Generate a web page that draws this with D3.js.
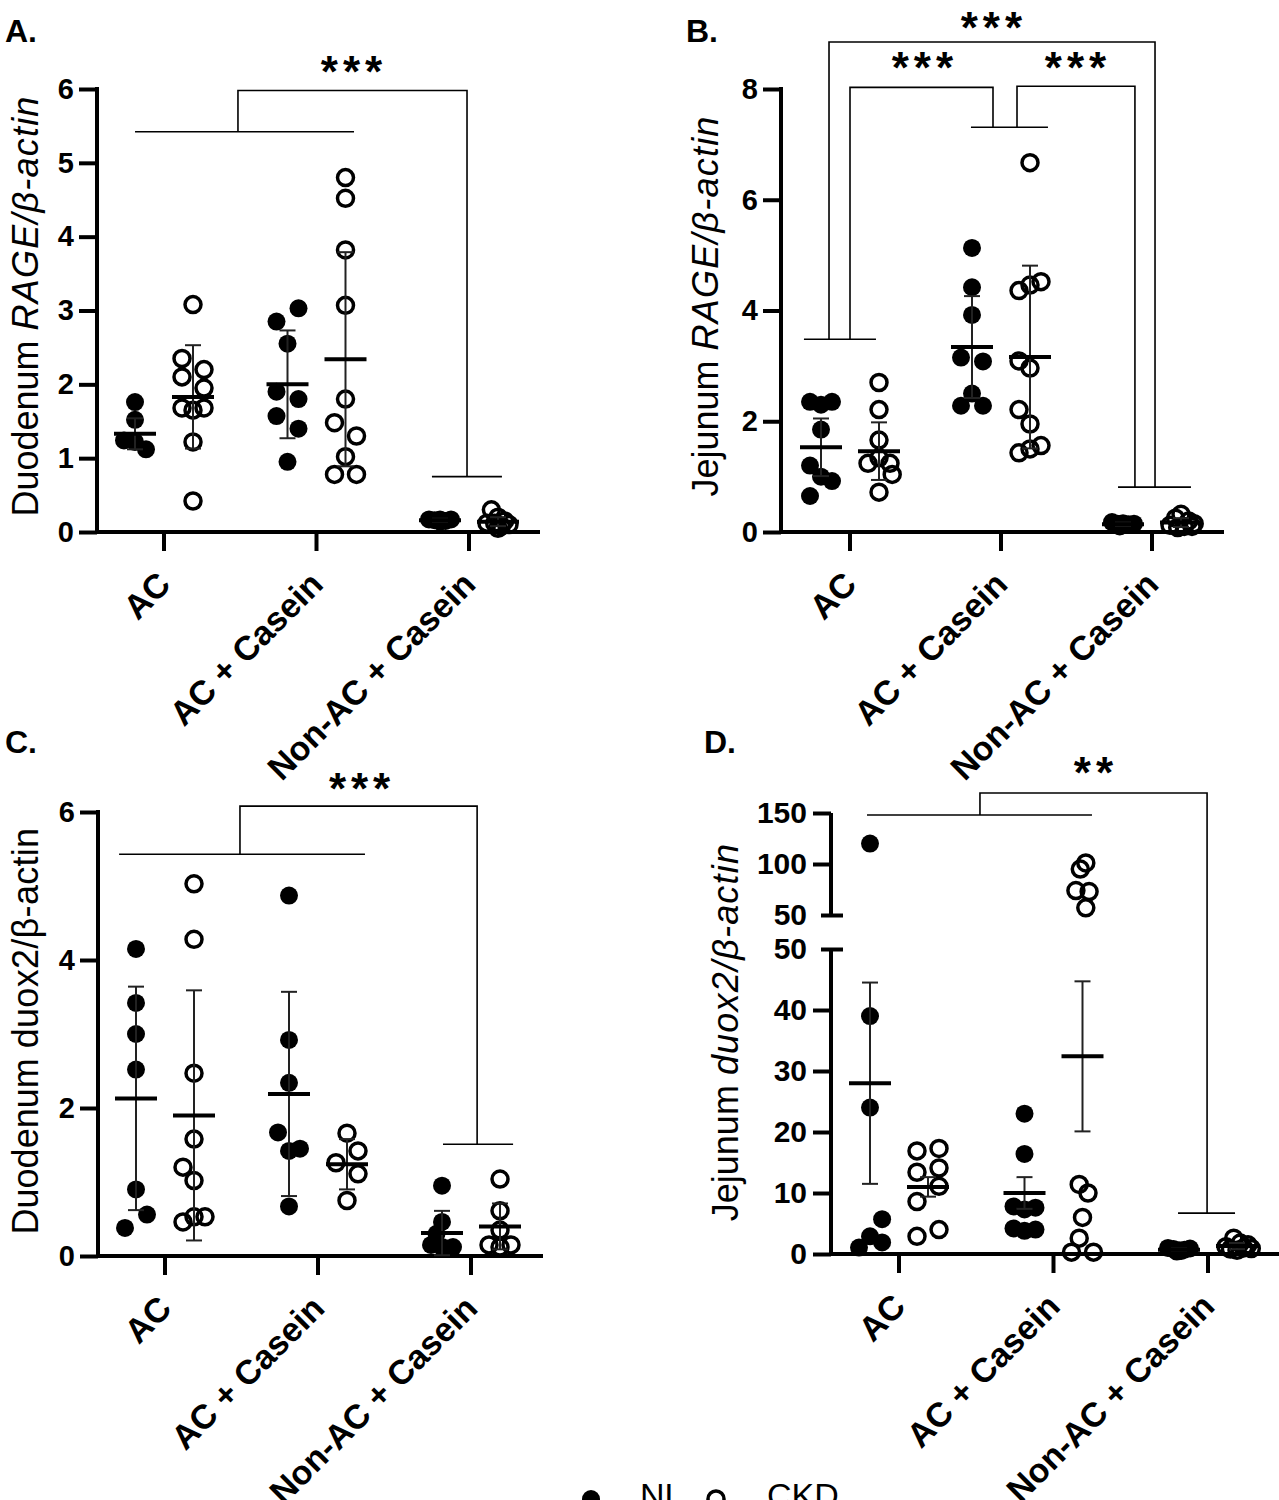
<!DOCTYPE html>
<html><head><meta charset="utf-8">
<script src="https://cdn.jsdelivr.net/npm/d3@7"></script>
<style>body{margin:0;background:#fff}svg{display:block}</style>
</head><body>
<svg id="chart" width="1279" height="1500"></svg>
<script>
// ---------------- DATA ----------------
const categories = ["AC", "AC + Casein", "Non-AC + Casein"];
const seriesNames = ["NL", "CKD"];

// each point: [value, lane] (lane = side-by-side slot of overlapping points)
// Panel A: Duodenum RAGE/β-actin
const A_NL = [
  [[1.76,0],[1.52,0],[1.24,-1],[1.22,0],[1.12,1]],
  [[3.03,1],[2.85,-1],[2.55,0],[1.9,-1],[1.8,1],[1.57,-1],[1.4,1],[0.95,0]],
  [[0.17,-1],[0.16,-0.5],[0.17,0],[0.15,0.5],[0.17,1],[0.14,0]]
];
const A_CKD = [
  [[3.08,0],[2.35,-1],[2.2,1],[2.1,-1],[1.95,1],[1.68,-1],[1.65,0],[1.68,1],[1.22,0],[0.42,0]],
  [[4.8,0],[4.52,0],[3.82,0],[3.07,0],[1.8,0],[1.48,-1],[1.3,1],[1.02,0],[0.78,-1],[0.78,1]],
  [[0.3,-0.6],[0.2,0],[0.15,0.6],[0.12,-0.3],[0.08,0.3],[0.1,1],[0.12,-1],[0.05,0]]
];
const A_NL_mean = [1.33, 2.0, 0.16];
const A_NL_sd = [0.21, 0.73, 0.02];
const A_CKD_mean = [1.83, 2.34, 0.14];
const A_CKD_sd = [0.70, 1.45, 0.06];
const A_ticks = [0, 1, 2, 3, 4, 5, 6];
const A_brackets = [
  [[-0.19,5.42],[1.246,5.42]],
  [[0.485,5.42],[0.485,5.98],[1.987,5.98],[1.987,0.75]],
  [[1.757,0.75],[2.216,0.75]]
];
const A_stars = [["***", 1.233, 6.32]];

// Panel B: Jejunum RAGE/β-actin
const B_NL = [
  [[2.35,-1],[2.35,1],[2.3,0],[1.85,0],[1.2,-1],[1.0,0],[0.92,1],[0.65,-1]],
  [[5.13,0],[4.42,0],[3.92,0],[3.15,-1],[3.08,1],[2.5,0],[2.28,-1],[2.28,1]],
  [[0.18,-1],[0.15,-0.5],[0.16,0],[0.14,0.5],[0.15,1],[0.12,0],[0.1,-0.3]]
];
const B_CKD = [
  [[2.7,0],[2.21,0],[1.66,0],[1.34,0],[1.24,-1],[1.24,1],[1.04,1.2],[0.72,0]],
  [[6.67,0],[4.52,1],[4.46,0],[4.36,-1],[3.09,-1],[2.96,0],[2.21,-1],[1.95,0],[1.56,1],[1.5,0],[1.43,-1]],
  [[0.32,0],[0.25,-0.5],[0.2,0.7],[0.15,1.2],[0.12,-1],[0.1,0.3],[0.08,-0.3],[0.1,1]]
];
const B_NL_mean = [1.53, 3.34, 0.14];
const B_NL_sd = [0.52, 0.92, 0.03];
const B_CKD_mean = [1.46, 3.16, 0.17];
const B_CKD_sd = [0.52, 1.65, 0.08];
const B_ticks = [0, 2, 4, 6, 8];
const B_brackets = [
  [[-0.305,3.48],[0.172,3.48]],
  [[0.801,7.31],[1.311,7.31]],
  [[1.775,0.81],[2.258,0.81]],
  [[-0.139,3.48],[-0.139,8.85],[2.02,8.85],[2.02,0.81]],
  [[0,3.48],[0,8.03],[0.947,8.03],[0.947,7.31]],
  [[1.106,7.31],[1.106,8.05],[1.887,8.05],[1.887,0.81]]
];
const B_stars = [["***", 0.94, 9.22], ["***", 0.483, 8.5], ["***", 1.497, 8.5]];

// Panel C: Duodenum duox2/β-actin
const C_NL = [
  [[4.15,0],[3.42,0],[3.0,0],[2.52,0],[0.9,0],[0.56,1],[0.38,-1]],
  [[4.87,0],[2.92,0],[2.34,0],[1.67,-1],[1.45,1],[1.42,0],[0.67,0]],
  [[0.95,0],[0.46,0],[0.3,-0.5],[0.15,-1],[0.12,0],[0.12,1],[0.1,0.5]]
];
const C_CKD = [
  [[5.03,0],[4.28,0],[2.47,0],[1.58,0],[1.2,-1],[1.02,0],[0.53,0],[0.53,1],[0.46,-1]],
  [[1.66,0],[1.42,1],[1.26,-1],[1.11,1],[0.75,0]],
  [[1.04,0],[0.61,0],[0.35,0],[0.15,-1],[0.15,1],[0.12,0]]
];
const C_NL_mean = [2.13, 2.19, 0.31];
const C_NL_sd = [1.51, 1.38, 0.30];
const C_CKD_mean = [1.9, 1.24, 0.40];
const C_CKD_sd = [1.69, 0.34, 0.31];
const C_ticks = [0, 2, 4, 6];
const C_brackets = [
  [[-0.30,5.43],[1.307,5.43]],
  [[0.49,5.43],[0.49,6.08],[2.04,6.08],[2.04,1.51]],
  [[1.817,1.51],[2.275,1.51]]
];
const C_stars = [["***", 1.275, 6.4]];

// Panel D: Jejunum duox2/β-actin (broken axis)
const D_NL = [
  [[120,0],[39,0],[24,0],[5.7,1.1],[2.9,0],[1.9,1.1],[1.05,-1]],
  [[23,0],[16.4,0],[7.8,-1],[7.6,1],[7.3,0],[4.2,-1],[4.0,1],[3.8,0]],
  [[1.0,-1],[0.8,-0.5],[0.6,0],[0.7,0.5],[0.9,1],[0.5,0.2],[0.4,-0.2]]
];
const D_CKD = [
  [[17.3,1],[16.9,-1],[14.1,1],[13.4,-1],[11.1,1],[8.6,-1],[4.0,1],[2.9,-1]],
  [[101,0.3],[95,-0.2],[74,-0.6],[73,0.6],[57,0.3],[11.4,-0.3],[10,0.5],[6,0],[2.6,-0.3],[0.3,-1],[0.3,1]],
  [[2.6,-0.3],[1.8,0.3],[1.5,1],[1.2,-1],[1.0,0.6],[0.8,-0.6],[0.6,0],[0.9,1.3]]
];
const D_NL_mean = [28, 10, 0.7];
const D_NL_sd = [16.5, 2.6, 0.2];
const D_CKD_mean = [11, 32.4, 1.3];
const D_CKD_sd = [1.6, 12.3, 0.5];
const D_ticksLower = [0, 10, 20, 30, 40, 50];
const D_ticksUpper = [50, 100, 150];
const D_brackets = [
  [[-0.207,148],[1.249,148]],
  [[0.524,148],[0.524,169.6],[1.994,169.6],[1.994,6.7]],
  [[1.806,6.7],[2.175,6.7]]
];
const D_stars = [["**", 1.262, 196]];

// ---------------- LAYOUT ----------------
const FONT = "'Liberation Sans', Arial, Helvetica, sans-serif";
const svg = d3.select("#chart");
svg.append("rect").attr("width",1279).attr("height",1500).attr("fill","#fff");

const panels = [
  { label:"A.", labelX:5, labelY:42, x0:97, xEnd:540, catRange:[164,469],
    y: d3.scaleLinear().domain([0,6]).range([532,89]), ticks:A_ticks, tickFont:29,
    titleX:38, titleY:306, titleMain:"Duodenum ", titleItal:"RAGE/β-actin", italic:true,
    NL:A_NL, CKD:A_CKD, NLm:A_NL_mean, NLs:A_NL_sd, CKm:A_CKD_mean, CKs:A_CKD_sd,
    brackets:A_brackets, stars:A_stars },
  { label:"B.", labelX:686, labelY:42, x0:781, xEnd:1224, catRange:[850,1152],
    y: d3.scaleLinear().domain([0,8]).range([532,89]), ticks:B_ticks, tickFont:29,
    titleX:718, titleY:306, titleMain:"Jejunum ", titleItal:"RAGE/β-actin", italic:true,
    NL:B_NL, CKD:B_CKD, NLm:B_NL_mean, NLs:B_NL_sd, CKm:B_CKD_mean, CKs:B_CKD_sd,
    brackets:B_brackets, stars:B_stars },
  { label:"C.", labelX:5, labelY:753, x0:98, xEnd:543, catRange:[165,471],
    y: d3.scaleLinear().domain([0,6]).range([1256,812]), ticks:C_ticks, tickFont:29,
    titleX:38, titleY:1031, titleMain:"Duodenum ", titleItal:"duox2/β-actin", italic:false,
    NL:C_NL, CKD:C_CKD, NLm:C_NL_mean, NLs:C_NL_sd, CKm:C_CKD_mean, CKs:C_CKD_sd,
    brackets:C_brackets, stars:C_stars },
  { label:"D.", labelX:704, labelY:753, x0:831, xEnd:1279, catRange:[899,1208],
    lower: d3.scaleLinear().domain([0,50]).range([1254,949]),
    upper: d3.scaleLinear().domain([50,150]).range([915,813]), tickFont:30,
    titleX:738, titleY:1032, titleMain:"Jejunum ", titleItal:"duox2/β-actin", italic:true,
    NL:D_NL, CKD:D_CKD, NLm:D_NL_mean, NLs:D_NL_sd, CKm:D_CKD_mean, CKs:D_CKD_sd,
    brackets:D_brackets, stars:D_stars, broken:true }
];

const LANE = 11;
const R_FILL = 9, R_OPEN = 8;

function styleAxis(ax, fs) {
  ax.selectAll(".tick line").attr("stroke","#000").attr("stroke-width",4);
  ax.selectAll(".tick text").attr("font-family",FONT).attr("font-weight","bold")
    .attr("font-size",fs).attr("fill","#000");
}

panels.forEach(P => {
  const g = svg.append("g");
  const yf = P.broken ? (v => (v <= 50 ? P.lower(v) : P.upper(v))) : P.y;
  const y0 = P.broken ? P.lower(0) : P.y(0);
  const x = d3.scalePoint().domain(categories).range(P.catRange);
  const off = d3.scalePoint().domain(seriesNames).range([-29, 29]);
  const xi = d3.scaleLinear().domain([0, 2]).range(P.catRange);

  // panel letter
  g.append("text").attr("x",P.labelX).attr("y",P.labelY).text(P.label)
    .attr("font-family",FONT).attr("font-weight","bold").attr("font-size",32).attr("fill","#000");

  // y axis
  if (!P.broken) {
    const ax = g.append("g").attr("transform",`translate(${P.x0},0)`)
      .call(d3.axisLeft(P.y).tickValues(P.ticks).tickSize(18).tickPadding(5).tickFormat(d3.format("d")));
    ax.select(".domain").remove();
    styleAxis(ax, P.tickFont);
    g.append("line").attr("x1",P.x0).attr("x2",P.x0).attr("y1",P.y(P.y.domain()[0]))
      .attr("y2",P.y(P.y.domain()[1])).attr("stroke","#000").attr("stroke-width",4).attr("stroke-linecap","square");
  } else {
    [[P.lower, D_ticksLower], [P.upper, D_ticksUpper]].forEach(([sc, tv]) => {
      const ax = g.append("g").attr("transform",`translate(${P.x0},0)`)
        .call(d3.axisLeft(sc).tickValues(tv).tickSize(18).tickPadding(6).tickFormat(d3.format("d")));
      ax.select(".domain").remove();
      styleAxis(ax, P.tickFont);
      ax.selectAll(".tick").filter(d => d === 50).select("line").attr("x2",-10).attr("x1",12);
      g.append("line").attr("x1",P.x0).attr("x2",P.x0).attr("y1",sc(sc.domain()[0]))
        .attr("y2",sc(sc.domain()[1])).attr("stroke","#000").attr("stroke-width",4);
    });
  }

  // x axis
  g.append("line").attr("x1",P.x0 - 2).attr("x2",P.xEnd).attr("y1",y0).attr("y2",y0)
    .attr("stroke","#000").attr("stroke-width",4);
  categories.forEach(c => {
    g.append("line").attr("x1",x(c)).attr("x2",x(c)).attr("y1",y0).attr("y2",y0 + 19)
      .attr("stroke","#000").attr("stroke-width",4);
    g.append("text").attr("transform",`translate(${x(c)},${y0 + 46}) rotate(-45)`)
      .attr("text-anchor","end").attr("dy","0.35em").text(c)
      .attr("font-family",FONT).attr("font-weight","bold").attr("font-size",34).attr("fill","#000");
  });

  // y title
  const t = g.append("text").attr("transform",`translate(${P.titleX},${P.titleY}) rotate(-90)`)
    .attr("text-anchor","middle").attr("font-family",FONT).attr("font-size",36).attr("fill","#000");
  t.append("tspan").text(P.titleMain);
  t.append("tspan").text(P.titleItal).attr("font-style", P.italic ? "italic" : "normal")
    .attr("letter-spacing", P.italic ? 1.2 : 0.3);

  // points
  const series = [
    { name:"NL", pts:P.NL, m:P.NLm, s:P.NLs },
    { name:"CKD", pts:P.CKD, m:P.CKm, s:P.CKs }
  ];
  series.forEach(S => {
    S.pts.forEach((grp, ci) => {
      const cx = x(categories[ci]) + off(S.name);
      g.selectAll(null).data(grp).enter().append("circle")
        .attr("cx", d => cx + d[1] * LANE).attr("cy", d => yf(d[0]))
        .attr("r", S.name === "NL" ? R_FILL : R_OPEN)
        .attr("fill", S.name === "NL" ? "#000" : "none")
        .attr("stroke", S.name === "NL" ? "none" : "#000")
        .attr("stroke-width", 3.5);
    });
  });
  // error bars + means
  series.forEach(S => {
    S.m.forEach((mv, ci) => {
      const cx = x(categories[ci]) + off(S.name);
      const lo = yf(Math.max(0, mv - S.s[ci])), hi = yf(mv + S.s[ci]);
      g.append("line").attr("x1",cx).attr("x2",cx).attr("y1",lo).attr("y2",hi)
        .attr("stroke","#222").attr("stroke-width",2);
      [lo, hi].forEach(yy => g.append("line").attr("x1",cx - 8).attr("x2",cx + 8)
        .attr("y1",yy).attr("y2",yy).attr("stroke","#222").attr("stroke-width",2));
      g.append("line").attr("x1",cx - 21).attr("x2",cx + 21).attr("y1",yf(mv)).attr("y2",yf(mv))
        .attr("stroke","#000").attr("stroke-width",4);
    });
  });

  // significance brackets
  const line = d3.line().x(d => xi(d[0])).y(d => yf(d[1]));
  P.brackets.forEach(b => {
    g.append("path").attr("d", line(b)).attr("fill","none").attr("stroke","#000").attr("stroke-width",1.6);
  });
  P.stars.forEach(s => {
    g.append("text").attr("x", xi(s[1]) + 2).attr("y", yf(s[2])).attr("dy","0.5em")
      .attr("text-anchor","middle").attr("letter-spacing",5).text(s[0])
      .attr("font-family",FONT).attr("font-weight","bold").attr("font-size",44).attr("fill","#000");
  });
});

// legend (bottom, partly cropped as in the reference)
const leg = svg.append("g");
const legendItems = [
  { name:"NL", cx:591, tx:640 },
  { name:"CKD", cx:716, tx:767 }
];
legendItems.forEach(it => {
  leg.append("circle").attr("cx",it.cx).attr("cy",1499)
    .attr("r", it.name === "NL" ? R_FILL : R_OPEN)
    .attr("fill", it.name === "NL" ? "#000" : "none")
    .attr("stroke", it.name === "NL" ? "none" : "#000").attr("stroke-width",3.5);
  leg.append("text").attr("x",it.tx).attr("y",1507).text(it.name)
    .attr("font-family",FONT).attr("font-size",34).attr("fill","#000");
});
</script>
</body></html>
